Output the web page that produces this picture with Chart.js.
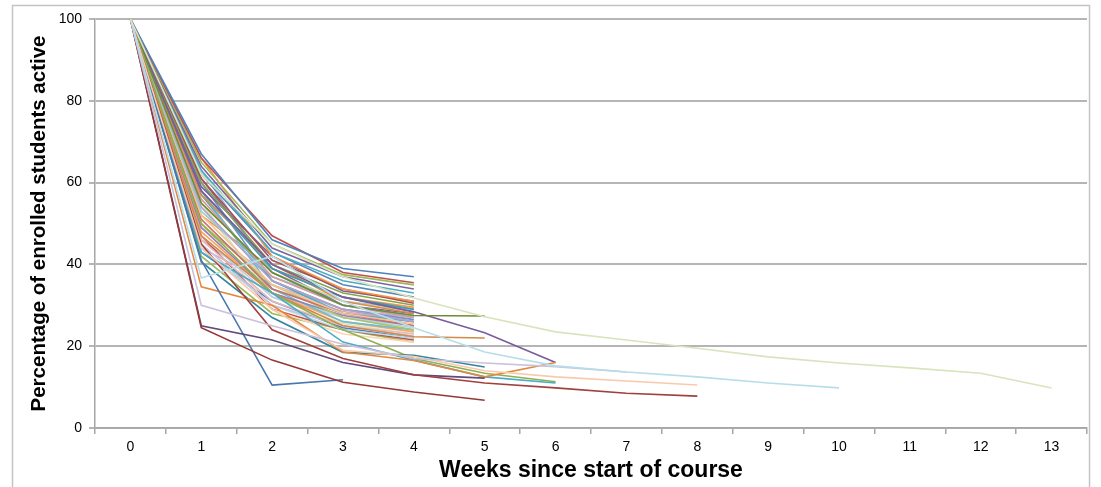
<!DOCTYPE html>
<html>
<head>
<meta charset="utf-8">
<script src="https://cdn.jsdelivr.net/npm/chart.js@4.4.1/dist/chart.umd.min.js"></script>
<style>
  html, body { margin: 0; padding: 0; background: #ffffff; }
  #wrap { width: 1101px; height: 487px; }
</style>
</head>
<body>
<div id="wrap"><canvas id="c" width="1101" height="487"></canvas></div>
<script>
// ---- data ----
const weeks = ['0','1','2','3','4','5','6','7','8','9','10','11','12','13'];
const yTicks = [0, 20, 40, 60, 80, 100];

// courses whose data stop at week 4
const c01 = [100, 67, 46, 39, 37];
const c02 = [100, 66, 47, 38, 35.5];
const c03 = [100, 65, 45, 37.5, 35];
const c04 = [100, 64, 44, 37, 34];
const c05 = [100, 63, 43, 36, 33];
const c06 = [100, 66, 42, 34, 31];
const c07 = [100, 62, 43, 35, 32];
const c08 = [100, 61, 41, 34, 30.5];
const c09 = [100, 60, 40, 33, 30];
const c10 = [100, 59, 42, 33.5, 31];
const c11 = [100, 58, 39, 32, 29];
const c12 = [100, 57, 40, 31, 28];
const c13 = [100, 63, 38, 30, 27.5];
const c14 = [100, 56, 37, 30, 27];
const c15 = [100, 55, 38, 31, 28.5];
const c16 = [100, 54, 36, 29, 26];
const c17 = [100, 53, 37, 30, 27];
const c18 = [100, 52, 35, 28, 25.5];
const c19 = [100, 60, 36, 29, 26.5];
const c20 = [100, 51, 34, 28, 25];
const c21 = [100, 50, 35, 27, 24];
const c22 = [100, 49, 33, 27.5, 25];
const c23 = [100, 58, 34, 26, 24];
const c24 = [100, 48, 33, 26, 23.5];
const c25 = [100, 47, 32, 27, 24.5];
const c26 = [100, 46, 31, 25, 23];
const c27 = [100, 55, 32, 25.5, 23];
const c28 = [100, 45, 30, 25, 22.5];
const c29 = [100, 44, 30, 24, 22];
const c30 = [100, 50, 29, 23, 21];
const c31 = [100, 43, 31, 24.5, 22];
const c32 = [100, 47, 29, 24, 21.5];
const c33 = [100, 42, 28, 24, 21];
const c34 = [100, 61, 39, 30, 28];
const c35 = [100, 57, 36, 28, 26];
const c36 = [100, 52, 39, 32, 29.5];
const c37 = [100, 49, 37, 31, 29];
const c38 = [100, 46, 34, 28.5, 26];
const c39 = [100, 54, 33, 27, 25];
const c40 = [100, 44, 35, 29, 27];

// courses with other lengths
const blueDrop    = [100, 41, 10.5, 11.8];
const purpleLow   = [100, 25, 21.5, 16, 13, 12.2];
const redLow      = [100, 24.5, 16.6, 11.2, 8.8, 6.8];
const redLong     = [100, 45, 24, 17, 13, 11, 9.8, 8.5, 7.8];
const lavender    = [100, 30, 25, 20.5, 17, 15.9, 15, 13.7];
const orangeLow   = [100, 34.5, 30, 18.6, 16.5, 12.5, 16];
const tealW5      = [100, 40.6, 27, 18.5, 17.8, 14.9];
const tealW6      = [100, 43, 33, 21, 16.6, 12.5, 11];
const greenSteep  = [100, 50, 33, 24, 17, 13.4, 11.3];
const paleGreen   = [100, 62, 45, 37, 31.8, 27.2, 23.5, 21.5, 19.5, 17.4, 15.9, 14.7, 13.4, 9.8];
const lightBlue   = [100, 36.7, 42, 31, 24.5, 18.6, 15.2, 13.7, 12.5, 11, 9.8];
const oliveW5     = [100, 55, 38, 30, 27.5, 27.4];
const purpleW6    = [100, 58, 40, 32, 28.4, 23.3, 16];
const tanW5       = [100, 47, 33, 25, 22.3, 22];
const salmonW8    = [100, 44, 29, 19, 17.5, 14, 12.5, 11.5, 10.5];

// ---- styles ----
const palette = [
  '#4F81BD','#C0504D','#9BBB59','#8064A2','#4BACC6','#F79646',
  '#5A85B8','#A9514E','#86A54B','#7A63A0','#3E9BB4','#E08A43',
  '#95B3D7','#D99694','#C3D69B','#B3A2C7','#93CDDD','#FAC090',
  '#6F94C4','#C96F6C','#A9C46E','#9580B5','#6BBDD2','#F5A766',
  '#B9CDE5','#E6B9B8','#D7E4BD','#CCC1DA','#B7DEE8','#FCD5B5',
  '#4F81BD','#C0504D','#9BBB59','#8064A2','#4BACC6','#F79646',
  '#A7C0DE','#E0A8A6','#CDDDAC','#BFB1D0'
];

const mainSeries = [c01,c02,c03,c04,c05,c06,c07,c08,c09,c10,c11,c12,c13,c14,c15,c16,c17,c18,c19,c20,
  c21,c22,c23,c24,c25,c26,c27,c28,c29,c30,c31,c32,c33,c34,c35,c36,c37,c38,c39,c40];

const special = [
  [paleGreen, '#D7E4BD'],
  [lightBlue, '#B7DEE8'],
  [lavender, '#CCC1DA'],
  [salmonW8, '#F9C9AE'],
  [redLong, '#A0403D'],
  [redLow, '#953735'],
  [purpleLow, '#604A7B'],
  [blueDrop, '#4A76AE'],
  [orangeLow, '#E4883E'],
  [tealW5, '#31859C'],
  [tealW6, '#4BACC6'],
  [greenSteep, '#8EB04F'],
  [oliveW5, '#6E8B36'],
  [purpleW6, '#7A5C9C'],
  [tanW5, '#D2894A']
];

const datasets = [];
special.forEach(([d, col], i) => datasets.push({ label: 's' + i, data: d, borderColor: col }));
mainSeries.forEach((d, i) => datasets.push({ label: 'c' + i, data: d, borderColor: palette[i % palette.length] }));
datasets.forEach(ds => { ds.borderWidth = 1.6; ds.pointRadius = 0; ds.tension = 0; ds.fill = false; });

const frame = {
  id: 'frame',
  beforeDraw(chart) {
    const ctx = chart.ctx;
    ctx.save();
    ctx.fillStyle = '#ffffff';
    ctx.fillRect(0, 0, chart.width, chart.height);
    ctx.strokeStyle = '#c4c4c4';
    ctx.lineWidth = 1.5;
    ctx.strokeRect(12.5, 5.5, 1077, 520);
    ctx.restore();
  }
};

new Chart(document.getElementById('c'), {
  type: 'line',
  data: { labels: weeks, datasets },
  plugins: [frame],
  options: {
    responsive: false,
    animation: false,
    devicePixelRatio: 1,
    layout: { padding: { left: 12, right: 14, top: 19, bottom: 0 } },
    plugins: { legend: { display: false }, tooltip: { enabled: false } },
    scales: {
      x: {
        type: 'category',
        offset: true,
        grid: { offset: true, drawOnChartArea: false, drawTicks: true, tickLength: 6, color: '#a6a6a6', lineWidth: 1.5 },
        border: { color: '#a6a6a6', width: 1.5 },
        ticks: { color: '#000', font: { family: "'Liberation Sans Narrow', 'Liberation Sans'", size: 14 }, padding: 5, maxRotation: 0, autoSkip: false },
        title: { display: true, text: 'Weeks since start of course', color: '#000',
          font: { family: 'Liberation Sans', size: 23, weight: 'bold' }, padding: { top: 0, bottom: 3 } },
        afterFit(s) { s.height = 59; }
      },
      y: {
        min: 0, max: 100,
        afterBuildTicks(s) { s.ticks = yTicks.map(v => ({ value: v })); },
        grid: { color: '#b5b5b5', lineWidth: 2, tickLength: 6 },
        border: { color: '#a6a6a6', width: 1.5 },
        ticks: { color: '#000', font: { family: 'Liberation Sans', size: 14 }, padding: 7 },
        title: { display: true, text: 'Percentage of enrolled students active', color: '#000',
          font: { family: 'Liberation Sans', size: 20.5, weight: 'bold' }, padding: { top: 15, bottom: 0 } },
        afterFit(s) { s.width = 83; }
      }
    }
  }
});
</script>
</body>
</html>
